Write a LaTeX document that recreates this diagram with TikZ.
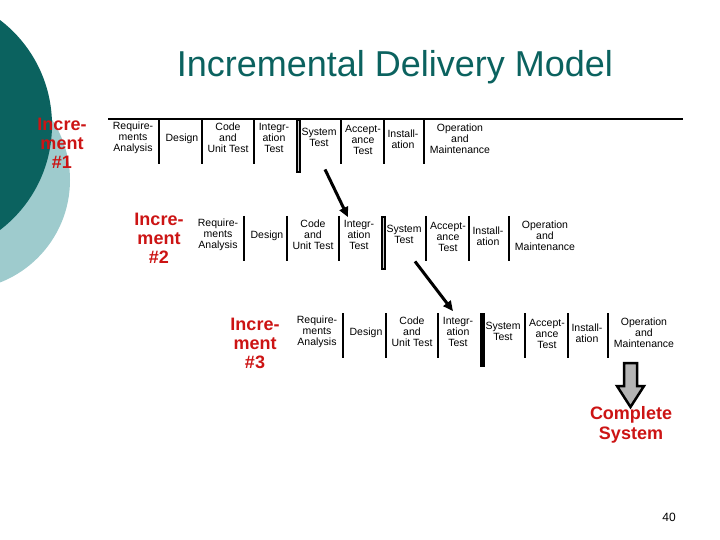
\documentclass[tikz,border=0pt]{standalone}
\usepackage{fontspec}
\setmainfont{Liberation Sans}
\usetikzlibrary{arrows.meta}
\definecolor{tealdark}{HTML}{0B625F}
\definecolor{teallight}{HTML}{9ECBCD}
\definecolor{incred}{HTML}{CC1414}
\definecolor{arrowgray}{HTML}{B4B4B4}

\begin{document}
\begin{tikzpicture}[x=1pt, y=-1pt,
    every node/.style = {align=center, inner sep=1pt},
    phase/.style = {font=\fontsize{10.5}{11}\selectfont},
    incr/.style = {font=\fontsize{18}{19}\selectfont\bfseries, text=incred},
    sep/.style = {line width=2pt},
    gate/.style = {line width=5pt},
    gateline/.style = {line width=0.8pt, draw=gray!40},
    flow/.style = {line width=3pt, -{Triangle[length=10pt,width=9pt]}},
    bigarrow/.style = {draw, line width=2.5pt, fill=arrowgray}]
  \useasboundingbox (0,0) rectangle (720,540);
  \begin{scope}
    \clip (0,0) rectangle (720,540);
    \fill[teallight] (-40,180) circle [radius=110pt];
    \fill[tealdark] (-80,125) circle [radius=132pt];
  \end{scope}
  \node[font=\fontsize{36}{40}\selectfont, text=tealdark] (title) at (395,67) {Incremental Delivery Model};
  \draw[sep] (108,119) -- (683,119);
  % increment labels
  \node[incr] (inc1) at (62,143) {Incre-\\ment\\\#1};
  \node[incr] (inc2) at (159,238) {Incre-\\ment\\\#2};
  \node[incr] (inc3) at (255,343) {Incre-\\ment\\\#3};
  % the three rows of phases
  \foreach \row/\dx/\dy in {1/0/0, 2/85/97, 3/184/194} {
    \foreach \n/\x/\y/\txt in {req/133/138/{Require-\\ments\\Analysis},
        des/182/139/Design, code/228/138/{Code\\and\\Unit Test},
        int/274/138/{Integr-\\ation\\Test}, sys/319/137/{System\\Test},
        acc/363/140/{Accept-\\ance\\Test}, inst/403/139/{Install-\\ation},
        op/460/139/{Operation\\and\\Maintenance}}
      \node[phase] (r\row\n) at (\x+\dx,\y+\dy) {\txt};
    \foreach \x in {159,202,254,341,384,424}
      \draw[sep] (\x+\dx,119+\dy) -- (\x+\dx,164+\dy);
    \draw[gate] (298+\dx,119+\dy) -- (298+\dx,173+\dy);
    \ifnum\row<3
      \draw[gateline] (298+\dx,121+\dy) -- (298+\dx,171+\dy);
    \fi
  }
  \draw[flow] ([xshift=6pt,yshift=-22pt]r1sys.south) -- ([xshift=-11pt,yshift=2pt]r2int.north);
  \draw[flow] ([xshift=11pt,yshift=-17pt]r2sys.south) -- ([xshift=-5pt,yshift=5pt]r3int.north);
  % delivered system
  \draw[bigarrow] (624,363) -- (637,363) -- (637,386) -- (644,386) -- (630.5,407)
    -- (617,386) -- (624,386) -- cycle;
  \node[incr, font=\fontsize{18}{20}\selectfont\bfseries] (done) at (631,425) {Complete\\System};
  \node[font=\fontsize{12}{14}\selectfont] (page) at (669,517) {40};
\end{tikzpicture}
\end{document}
